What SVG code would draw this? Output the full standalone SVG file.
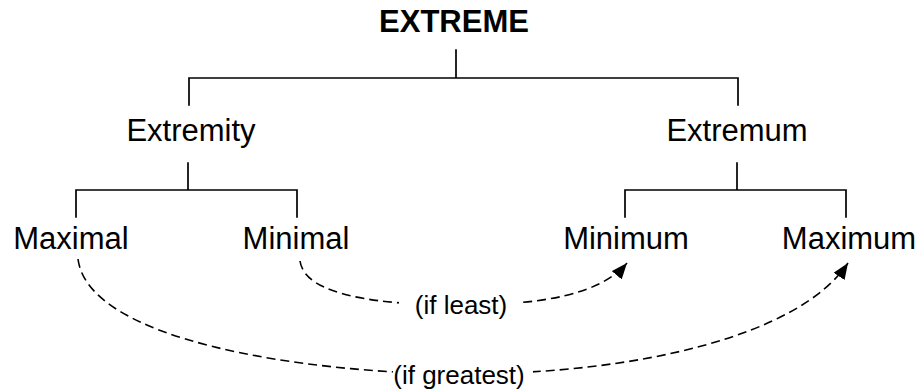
<svg xmlns="http://www.w3.org/2000/svg" width="923" height="390" viewBox="0 0 923 390">
  <style>
    .lbl { font-family: "Liberation Sans", Arial, sans-serif; font-size: 31px; fill: #000; text-anchor: middle; }
    .title { font-weight: bold; }
    .edge-lbl { font-family: "Liberation Sans", Arial, sans-serif; font-size: 26px; fill: #000; text-anchor: middle; }
    .tree { stroke: #000; stroke-width: 1.7; fill: none; stroke-linecap: square; }
    .dash { stroke: #000; stroke-width: 1.6; fill: none; stroke-dasharray: 9 5; }
  </style>
  <defs>
    <marker id="arrow" markerUnits="userSpaceOnUse" markerWidth="20" markerHeight="16" refX="16" refY="6.5" orient="auto">
      <path d="M0,0 L16,6.5 L0,13 Z" fill="#000"/>
    </marker>
  </defs>
  <rect width="923" height="390" fill="#fff"/>
  <g id="connectors">
    <path class="tree" d="M456,50 V78 M189,78 H738 M189,78 V105 M738,78 V105"/>
    <path class="tree" d="M188,163 V190 M76,190 H297 M76,190 V217 M297,190 V217"/>
    <path class="tree" d="M737,163 V190 M625,190 H846 M625,190 V217 M846,190 V217"/>
    <path class="dash" d="M78,259 C88,340 300,373 460,374 C640,374 800,335 848,263" marker-end="url(#arrow)"/>
    <path class="dash" d="M300,261 C305,296 380,305 461,305 C540,305 600,295 627,263" marker-end="url(#arrow)"/>
    <g id="edge-label-least">
      <rect x="399" y="288" width="123" height="30" fill="#fff"/>
      <text class="edge-lbl" x="461" y="314">(if least)</text>
    </g>
    <g id="edge-label-greatest">
      <rect x="393" y="358" width="140" height="32" fill="#fff"/>
      <text class="edge-lbl" x="459" y="384">(if greatest)</text>
    </g>
  </g>
  <g id="extreme"><text class="lbl title" x="454" y="32">EXTREME</text></g>
  <g id="extremity"><text class="lbl" x="191" y="141">Extremity</text></g>
  <g id="extremum"><text class="lbl" x="737" y="141">Extremum</text></g>
  <g id="maximal"><text class="lbl" x="71" y="249">Maximal</text></g>
  <g id="minimal"><text class="lbl" x="296" y="249">Minimal</text></g>
  <g id="minimum"><text class="lbl" x="626" y="249">Minimum</text></g>
  <g id="maximum"><text class="lbl" x="849" y="249">Maximum</text></g>
</svg>
